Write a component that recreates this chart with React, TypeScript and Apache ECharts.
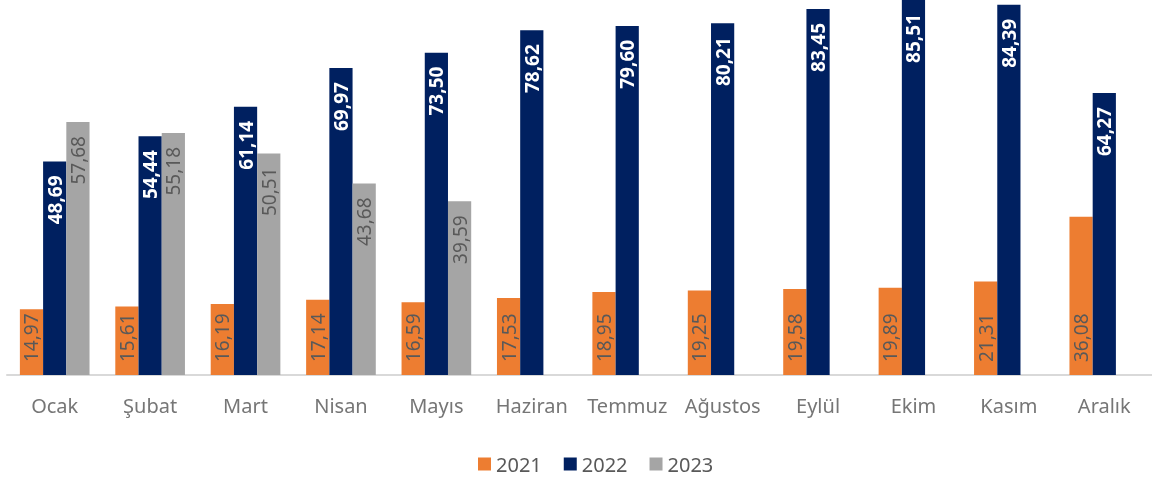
import React, { useEffect, useRef } from "react";
import * as echarts from "echarts";

const months = ["Ocak", "Şubat", "Mart", "Nisan", "Mayıs", "Haziran", "Temmuz", "Ağustos", "Eylül", "Ekim", "Kasım", "Aralık"];
const s2021 = [14.97, 15.61, 16.19, 17.14, 16.59, 17.53, 18.95, 19.25, 19.58, 19.89, 21.31, 36.08];
const s2022 = [48.69, 54.44, 61.14, 69.97, 73.5, 78.62, 79.6, 80.21, 83.45, 85.51, 84.39, 64.27];
const s2023 = [57.68, 55.18, 50.51, 43.68, 39.59, null, null, null, null, null, null, null];

const fmt = (p: any) => (p.value == null ? "" : Number(p.value).toFixed(2).replace(".", ","));
const FONT = "Noto Sans";

export default function App() {
  const ref = useRef<HTMLDivElement>(null);
  useEffect(() => {
    const chart = echarts.init(ref.current!, null, { renderer: "svg" });
    chart.setOption({
      animation: false,
      textStyle: { fontFamily: FONT },
      grid: { left: 7, right: -8, top: 0, bottom: 103, containLabel: false },
      legend: {
        top: 449,
        left: 473,
        itemWidth: 13,
        itemHeight: 13,
        itemGap: 22,
        icon: "rect",
        textStyle: { fontSize: 20, color: "#595959", fontFamily: FONT },
        data: ["2021", "2022", "2023"],
      },
      xAxis: {
        type: "category",
        data: months,
        axisLine: { lineStyle: { color: "#d9d9d9", width: 2 } },
        axisTick: { show: false },
        axisLabel: { color: "#767676", fontSize: 20, margin: 20, fontFamily: FONT, interval: 0 },
      },
      yAxis: { type: "value", min: 0, max: 85.5, show: false, splitLine: { show: false } },
      series: [
        {
          name: "2021",
          type: "bar",
          data: s2021,
          itemStyle: { color: "#ed7d31" },
          barGap: "0%",
          barCategoryGap: "27%",
          label: {
            show: true,
            position: "insideBottom",
            rotate: 90,
            align: "left",
            verticalAlign: "middle",
            distance: 13,
            color: "#595959",
            fontSize: 19,
            fontFamily: FONT,
            formatter: fmt,
          },
        },
        {
          name: "2022",
          type: "bar",
          data: s2022,
          itemStyle: { color: "#002060" },
          label: {
            show: true,
            position: "insideTop",
            rotate: 90,
            align: "right",
            verticalAlign: "middle",
            distance: 14,
            color: "#ffffff",
            fontWeight: "bold",
            fontSize: 19,
            fontFamily: FONT,
            formatter: fmt,
          },
        },
        {
          name: "2023",
          type: "bar",
          data: s2023,
          itemStyle: { color: "#a5a5a5" },
          label: {
            show: true,
            position: "insideTop",
            rotate: 90,
            align: "right",
            verticalAlign: "middle",
            distance: 14,
            color: "#595959",
            fontSize: 19,
            fontFamily: FONT,
            formatter: fmt,
          },
        },
      ],
    });
    return () => chart.dispose();
  }, []);
  return <div ref={ref} style={{ position: "fixed", left: 0, top: 0, width: 1152, height: 478 }} />;
}
